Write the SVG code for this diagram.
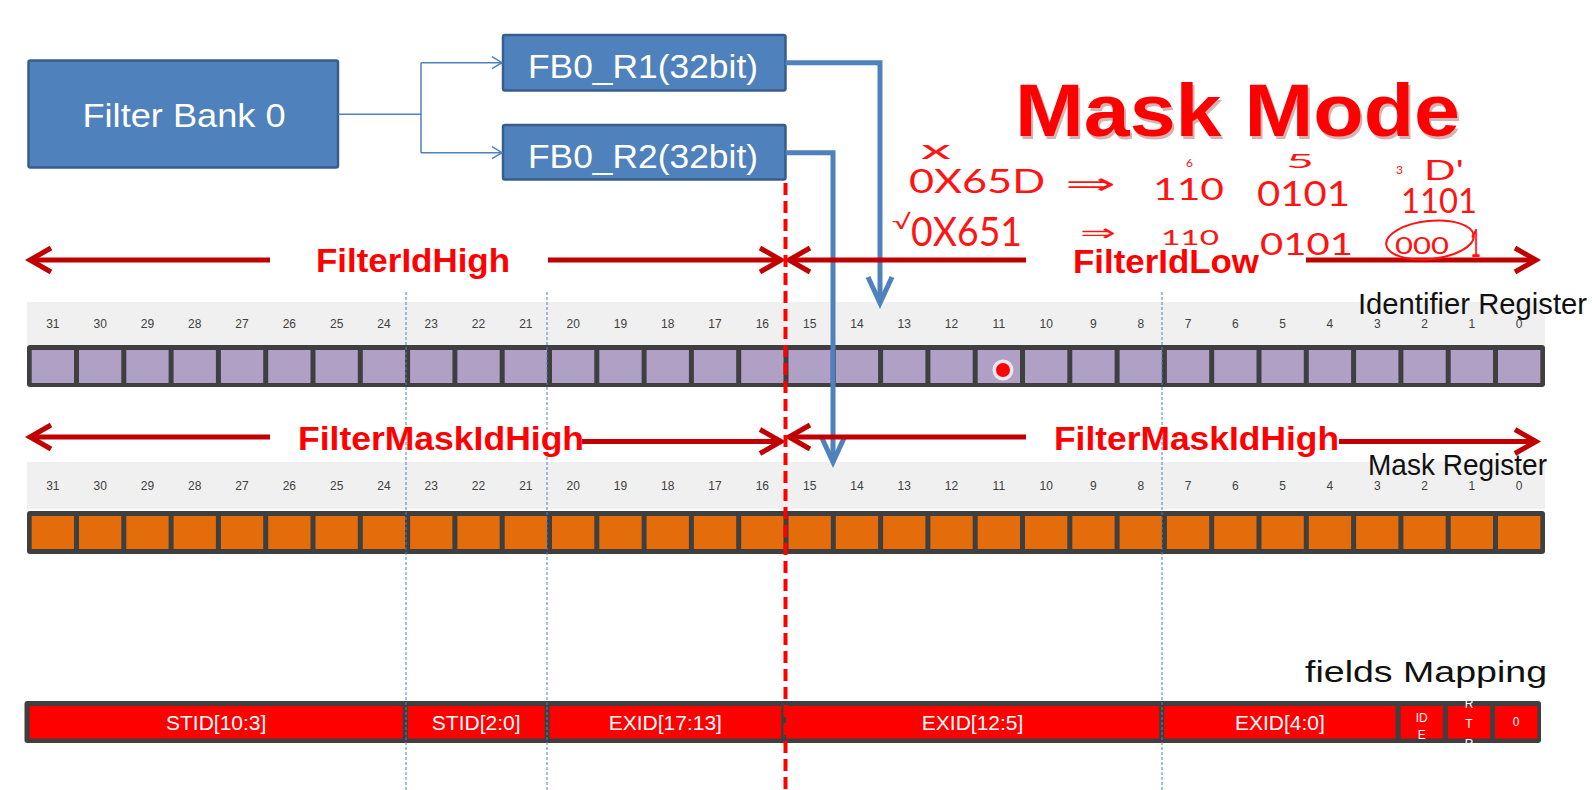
<svg xmlns="http://www.w3.org/2000/svg" width="1592" height="790" viewBox="0 0 1592 790">
<defs>
<style>
.box{fill:#4F81BD;stroke:#385D8A;stroke-width:2.5}
.boxt{font-family:"Liberation Sans",Arial,sans-serif;fill:#fff;text-anchor:middle}
.band{fill:#F0F0F0}
.bar{fill:#3F3F3F}
.cp{fill:#B0A0C6}
.co{fill:#E46C0A}
.cf{fill:#FF0000}
.n{font-family:"Liberation Sans",Arial,sans-serif;font-size:12px;fill:#404040;text-anchor:middle}
.ft{font-family:"Liberation Sans",Arial,sans-serif;font-size:21px;fill:#fff;text-anchor:middle}
.fs{font-family:"Liberation Sans",Arial,sans-serif;font-size:12px;fill:#fff;text-anchor:middle}
.lbl{font-family:"Liberation Sans",Arial,sans-serif;font-weight:bold;font-size:33px;fill:#FF0000}
.reg{font-family:"Liberation Sans",Arial,sans-serif;font-size:29px;fill:#111}
.hw{font-family:Lato,"DejaVu Sans",sans-serif;font-weight:400;fill:#FF1414}
.dim{fill:none;stroke:#C00000;stroke-width:5}
.thin{fill:none;stroke:#4F81BD;stroke-width:1.5}
.thick{fill:none;stroke:#4F81BD;stroke-width:5}
.dot{stroke:#4F81BD;stroke-width:1;stroke-dasharray:3 2}
</style>
<marker id="arrRed" viewBox="0 0 30 30" refX="25" refY="15" markerWidth="30" markerHeight="30" markerUnits="userSpaceOnUse" orient="auto-start-reverse" overflow="visible">
<path d="M4,3 L25,15 L4,27" fill="none" stroke="#C00000" stroke-width="5"/>
</marker>
<marker id="arrBlue" viewBox="0 0 34 30" refX="30" refY="15" markerWidth="34" markerHeight="30" markerUnits="userSpaceOnUse" orient="auto" overflow="visible">
<path d="M4,3 L30,15 L4,27" fill="none" stroke="#4F81BD" stroke-width="5"/>
</marker>
<marker id="arrThin" viewBox="0 0 12 14" refX="11" refY="7" markerWidth="12" markerHeight="14" markerUnits="userSpaceOnUse" orient="auto" overflow="visible">
<path d="M1,1 L11,7 L1,13" fill="none" stroke="#4F81BD" stroke-width="1.5"/>
</marker>
</defs>
<rect width="1592" height="790" fill="#fff"/>

<g id="filter-bank-0">
<rect class="box" x="28.5" y="60.5" width="309.5" height="107" rx="2"/>
<text class="boxt" x="184" y="127" font-size="34" textLength="203" lengthAdjust="spacingAndGlyphs">Filter Bank 0</text>
</g>
<g id="fb0-r1">
<rect class="box" x="503" y="35" width="282.5" height="55.5" rx="2"/>
<text class="boxt" x="643" y="78" font-size="33" textLength="230" lengthAdjust="spacingAndGlyphs">FB0_R1(32bit)</text>
</g>
<g id="fb0-r2">
<rect class="box" x="503" y="125" width="282.5" height="54.5" rx="2"/>
<text class="boxt" x="643" y="167.5" font-size="33" textLength="230" lengthAdjust="spacingAndGlyphs">FB0_R2(32bit)</text>
</g>

<g id="title">
<text x="1017" y="139" font-family="Liberation Sans,Arial,sans-serif" font-weight="bold" font-size="74" fill="#800000" opacity="0.3" textLength="445" lengthAdjust="spacingAndGlyphs">Mask Mode</text>
<text x="1015" y="136" font-family="Liberation Sans,Arial,sans-serif" font-weight="bold" font-size="74" fill="#FF0000" textLength="445" lengthAdjust="spacingAndGlyphs">Mask Mode</text>
</g>

<g id="identifier-register">
<rect class="band" x="27" y="302" width="1518" height="43"/>
<text class="n" x="52.85" y="327.5">31</text><text class="n" x="100.15" y="327.5">30</text><text class="n" x="147.45" y="327.5">29</text><text class="n" x="194.75" y="327.5">28</text><text class="n" x="242.05" y="327.5">27</text><text class="n" x="289.35" y="327.5">26</text><text class="n" x="336.65" y="327.5">25</text><text class="n" x="383.95" y="327.5">24</text><text class="n" x="431.25" y="327.5">23</text><text class="n" x="478.55" y="327.5">22</text><text class="n" x="525.85" y="327.5">21</text><text class="n" x="573.15" y="327.5">20</text><text class="n" x="620.45" y="327.5">19</text><text class="n" x="667.75" y="327.5">18</text><text class="n" x="715.05" y="327.5">17</text><text class="n" x="762.35" y="327.5">16</text><text class="n" x="809.65" y="327.5">15</text><text class="n" x="856.95" y="327.5">14</text><text class="n" x="904.25" y="327.5">13</text><text class="n" x="951.55" y="327.5">12</text><text class="n" x="998.85" y="327.5">11</text><text class="n" x="1046.15" y="327.5">10</text><text class="n" x="1093.45" y="327.5">9</text><text class="n" x="1140.75" y="327.5">8</text><text class="n" x="1188.05" y="327.5">7</text><text class="n" x="1235.35" y="327.5">6</text><text class="n" x="1282.65" y="327.5">5</text><text class="n" x="1329.95" y="327.5">4</text><text class="n" x="1377.25" y="327.5">3</text><text class="n" x="1424.55" y="327.5">2</text><text class="n" x="1471.85" y="327.5">1</text><text class="n" x="1519.15" y="327.5">0</text>
<rect class="bar" x="27" y="345" width="1518" height="42" rx="3"/>
<g class="cp">
<rect x="31.7" y="350" width="42.3" height="33"/><rect x="79" y="350" width="42.3" height="33"/><rect x="126.3" y="350" width="42.3" height="33"/><rect x="173.6" y="350" width="42.3" height="33"/><rect x="220.9" y="350" width="42.3" height="33"/><rect x="268.2" y="350" width="42.3" height="33"/><rect x="315.5" y="350" width="42.3" height="33"/><rect x="362.8" y="350" width="42.3" height="33"/><rect x="410.1" y="350" width="42.3" height="33"/><rect x="457.4" y="350" width="42.3" height="33"/><rect x="504.7" y="350" width="42.3" height="33"/><rect x="552" y="350" width="42.3" height="33"/><rect x="599.3" y="350" width="42.3" height="33"/><rect x="646.6" y="350" width="42.3" height="33"/><rect x="693.9" y="350" width="42.3" height="33"/><rect x="741.2" y="350" width="42.3" height="33"/><rect x="788.5" y="350" width="42.3" height="33"/><rect x="835.8" y="350" width="42.3" height="33"/><rect x="883.1" y="350" width="42.3" height="33"/><rect x="930.4" y="350" width="42.3" height="33"/><rect x="977.7" y="350" width="42.3" height="33"/><rect x="1025" y="350" width="42.3" height="33"/><rect x="1072.3" y="350" width="42.3" height="33"/><rect x="1119.6" y="350" width="42.3" height="33"/><rect x="1166.9" y="350" width="42.3" height="33"/><rect x="1214.2" y="350" width="42.3" height="33"/><rect x="1261.5" y="350" width="42.3" height="33"/><rect x="1308.8" y="350" width="42.3" height="33"/><rect x="1356.1" y="350" width="42.3" height="33"/><rect x="1403.4" y="350" width="42.3" height="33"/><rect x="1450.7" y="350" width="42.3" height="33"/><rect x="1498" y="350" width="42.3" height="33"/>
</g>
<circle cx="1003" cy="370" r="10.5" fill="#fff" opacity="0.75"/>
<circle cx="1003" cy="370" r="7" fill="#FF0000"/>
<text class="reg" x="1358" y="314" textLength="229" lengthAdjust="spacingAndGlyphs">Identifier Register</text>
</g>

<g id="mask-register">
<rect class="band" x="27" y="462" width="1518" height="47"/>
<text class="n" x="52.85" y="489.5">31</text><text class="n" x="100.15" y="489.5">30</text><text class="n" x="147.45" y="489.5">29</text><text class="n" x="194.75" y="489.5">28</text><text class="n" x="242.05" y="489.5">27</text><text class="n" x="289.35" y="489.5">26</text><text class="n" x="336.65" y="489.5">25</text><text class="n" x="383.95" y="489.5">24</text><text class="n" x="431.25" y="489.5">23</text><text class="n" x="478.55" y="489.5">22</text><text class="n" x="525.85" y="489.5">21</text><text class="n" x="573.15" y="489.5">20</text><text class="n" x="620.45" y="489.5">19</text><text class="n" x="667.75" y="489.5">18</text><text class="n" x="715.05" y="489.5">17</text><text class="n" x="762.35" y="489.5">16</text><text class="n" x="809.65" y="489.5">15</text><text class="n" x="856.95" y="489.5">14</text><text class="n" x="904.25" y="489.5">13</text><text class="n" x="951.55" y="489.5">12</text><text class="n" x="998.85" y="489.5">11</text><text class="n" x="1046.15" y="489.5">10</text><text class="n" x="1093.45" y="489.5">9</text><text class="n" x="1140.75" y="489.5">8</text><text class="n" x="1188.05" y="489.5">7</text><text class="n" x="1235.35" y="489.5">6</text><text class="n" x="1282.65" y="489.5">5</text><text class="n" x="1329.95" y="489.5">4</text><text class="n" x="1377.25" y="489.5">3</text><text class="n" x="1424.55" y="489.5">2</text><text class="n" x="1471.85" y="489.5">1</text><text class="n" x="1519.15" y="489.5">0</text>
<rect class="bar" x="27" y="511" width="1518" height="43" rx="3"/>
<g class="co">
<rect x="31.7" y="516" width="42.3" height="33"/><rect x="79" y="516" width="42.3" height="33"/><rect x="126.3" y="516" width="42.3" height="33"/><rect x="173.6" y="516" width="42.3" height="33"/><rect x="220.9" y="516" width="42.3" height="33"/><rect x="268.2" y="516" width="42.3" height="33"/><rect x="315.5" y="516" width="42.3" height="33"/><rect x="362.8" y="516" width="42.3" height="33"/><rect x="410.1" y="516" width="42.3" height="33"/><rect x="457.4" y="516" width="42.3" height="33"/><rect x="504.7" y="516" width="42.3" height="33"/><rect x="552" y="516" width="42.3" height="33"/><rect x="599.3" y="516" width="42.3" height="33"/><rect x="646.6" y="516" width="42.3" height="33"/><rect x="693.9" y="516" width="42.3" height="33"/><rect x="741.2" y="516" width="42.3" height="33"/><rect x="788.5" y="516" width="42.3" height="33"/><rect x="835.8" y="516" width="42.3" height="33"/><rect x="883.1" y="516" width="42.3" height="33"/><rect x="930.4" y="516" width="42.3" height="33"/><rect x="977.7" y="516" width="42.3" height="33"/><rect x="1025" y="516" width="42.3" height="33"/><rect x="1072.3" y="516" width="42.3" height="33"/><rect x="1119.6" y="516" width="42.3" height="33"/><rect x="1166.9" y="516" width="42.3" height="33"/><rect x="1214.2" y="516" width="42.3" height="33"/><rect x="1261.5" y="516" width="42.3" height="33"/><rect x="1308.8" y="516" width="42.3" height="33"/><rect x="1356.1" y="516" width="42.3" height="33"/><rect x="1403.4" y="516" width="42.3" height="33"/><rect x="1450.7" y="516" width="42.3" height="33"/><rect x="1498" y="516" width="42.3" height="33"/>
</g>
<text class="reg" x="1368" y="475" textLength="179" lengthAdjust="spacingAndGlyphs">Mask Register</text>
</g>

<g id="fields-mapping">
<text class="reg" x="1305" y="682" font-size="33" textLength="242" lengthAdjust="spacingAndGlyphs">fields Mapping</text>
<rect class="bar" x="24.5" y="701" width="1516.5" height="42" rx="3"/>
<g class="cf">
<rect x="29.6" y="706" width="373.2" height="32.5"/><rect x="407.8" y="706" width="136.8" height="32.5"/><rect x="549.6" y="706" width="231.4" height="32.5"/><rect x="786" y="706" width="373.2" height="32.5"/><rect x="1164.2" y="706" width="231.4" height="32.5"/><rect x="1400.6" y="706" width="42.3" height="32.5"/><rect x="1447.8" y="706" width="42.3" height="32.5"/><rect x="1495.1" y="706" width="42.3" height="32.5"/>
</g>
<text class="ft" x="216.2" y="729.5">STID[10:3]</text>
<text class="ft" x="476.2" y="729.5">STID[2:0]</text>
<text class="ft" x="665.3" y="729.5">EXID[17:13]</text>
<text class="ft" x="972.6" y="729.5">EXID[12:5]</text>
<text class="ft" x="1279.9" y="729.5">EXID[4:0]</text>
<text class="fs" x="1421.7" y="722">ID</text>
<text class="fs" x="1421.7" y="739">E</text>
<text class="fs" x="1469" y="708">R</text>
<text class="fs" x="1469" y="728">T</text>
<text class="fs" x="1469" y="748">R</text>
<text class="fs" x="1516.2" y="726">0</text>
</g>

<g id="guides">
<line class="dot" x1="406" y1="292" x2="406" y2="790"/>
<line class="dot" x1="547" y1="292" x2="547" y2="790"/>
<line class="dot" x1="1162" y1="292" x2="1162" y2="790"/>
</g>

<g id="connectors">
<path class="thin" d="M338,114.3 H421"/>
<path class="thin" d="M421,62.7 V152.7"/>
<path class="thin" d="M421,62.7 H502" marker-end="url(#arrThin)"/>
<path class="thin" d="M421,152.7 H502" marker-end="url(#arrThin)"/>
<path class="thick" d="M785.5,62.7 H880 V303" marker-end="url(#arrBlue)"/>
<path class="thick" d="M785.5,152.7 H833 V462" marker-end="url(#arrBlue)"/>
</g>

<g id="field-ranges">
<path class="dim" d="M270,260 H30" marker-end="url(#arrRed)"/>
<path class="dim" d="M548,260 H781" marker-end="url(#arrRed)"/>
<path class="dim" d="M1026,260 H789" marker-end="url(#arrRed)"/>
<path class="dim" d="M1306,260 H1536" marker-end="url(#arrRed)"/>
<path class="dim" d="M270,437 H30" marker-end="url(#arrRed)"/>
<path class="dim" d="M582,441.5 H781" marker-end="url(#arrRed)"/>
<path class="dim" d="M1026,437 H789" marker-end="url(#arrRed)"/>
<path class="dim" d="M1339,441.5 H1536" marker-end="url(#arrRed)"/>
<text class="lbl" x="316" y="272" textLength="194" lengthAdjust="spacingAndGlyphs">FilterIdHigh</text>
<text class="lbl" x="1073" y="273" textLength="186" lengthAdjust="spacingAndGlyphs">FilterIdLow</text>
<text class="lbl" x="298" y="450" textLength="286" lengthAdjust="spacingAndGlyphs">FilterMaskIdHigh</text>
<text class="lbl" x="1054" y="450" textLength="285" lengthAdjust="spacingAndGlyphs">FilterMaskIdHigh</text>
</g>

<line id="split" x1="785.5" y1="183" x2="785.5" y2="790" stroke="#FF0000" stroke-width="4" stroke-dasharray="12 6"/>

<g id="handwriting">
<text class="hw" x="921" y="159" font-size="26" textLength="30" lengthAdjust="spacingAndGlyphs">x</text>
<text class="hw" x="909" y="193" font-size="32" textLength="136" lengthAdjust="spacingAndGlyphs">0X65D</text>
<text class="hw" x="1065" y="194" font-size="30" textLength="51" lengthAdjust="spacingAndGlyphs">⇒</text>
<text class="hw" x="1186" y="167" font-size="12">6</text>
<text class="hw" x="1153" y="200" font-size="31" textLength="71" lengthAdjust="spacingAndGlyphs">110</text>
<text class="hw" x="1286" y="168" font-size="20" textLength="28" lengthAdjust="spacingAndGlyphs">5</text>
<text class="hw" x="1257" y="206" font-size="34" textLength="93" lengthAdjust="spacingAndGlyphs">0101</text>
<text class="hw" x="1396" y="174" font-size="12">3</text>
<text class="hw" x="1424" y="180" font-size="27" textLength="40" lengthAdjust="spacingAndGlyphs">D'</text>
<text class="hw" x="1401" y="213" font-size="35" textLength="76" lengthAdjust="spacingAndGlyphs">1101</text>
<text class="hw" x="892" y="229" font-size="20" textLength="19" lengthAdjust="spacingAndGlyphs">√</text>
<text class="hw" x="911" y="246" font-size="40" textLength="111" lengthAdjust="spacingAndGlyphs">0X651</text>
<text class="hw" x="1080" y="241" font-size="24" textLength="36" lengthAdjust="spacingAndGlyphs">⇒</text>
<text class="hw" x="1161" y="245" font-size="22" textLength="58" lengthAdjust="spacingAndGlyphs">110</text>
<text class="hw" x="1260" y="255" font-size="31" textLength="93" lengthAdjust="spacingAndGlyphs">0101</text>
<text class="hw" x="1395" y="254" font-size="23" textLength="54" lengthAdjust="spacingAndGlyphs">000</text>
<text class="hw" x="1470" y="257" font-size="38" textLength="11" lengthAdjust="spacingAndGlyphs">1</text>
<ellipse cx="1430" cy="240" rx="44" ry="19" transform="rotate(-6 1430 240)" fill="none" stroke="#FF1414" stroke-width="2"/>
</g>
</svg>
